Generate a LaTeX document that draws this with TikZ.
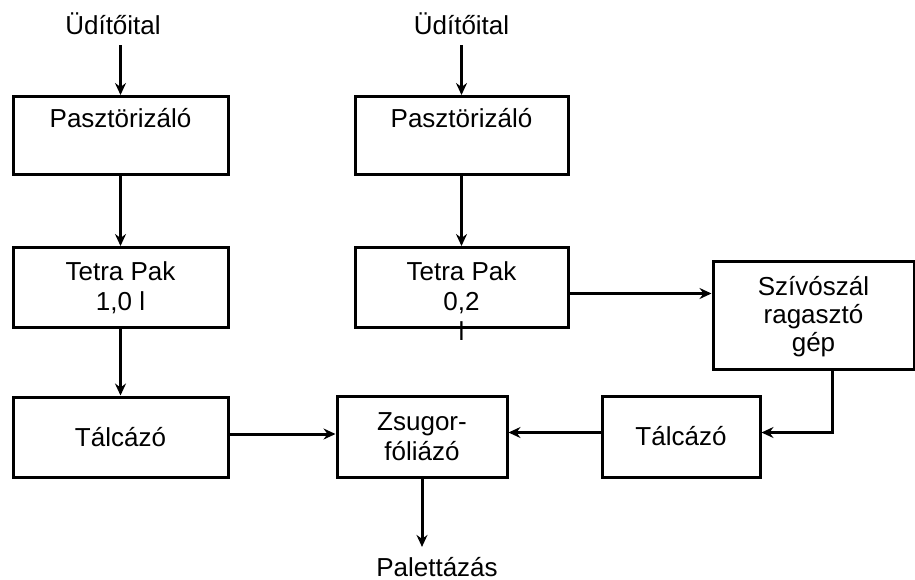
\documentclass[tikz,border=0pt]{standalone}
\usepackage{fontspec}
\setmainfont{Liberation Sans}
\usetikzlibrary{arrows.meta}

\begin{document}
\begin{tikzpicture}[x=0.5pt,y=-0.5pt,
  box/.style={draw, line width=1.5pt, align=center, inner sep=0pt, font=\fontsize{13}{15}\selectfont},
  lbl/.style={inner sep=5pt, font=\fontsize{13}{15}\selectfont},
  flow/.style={line width=1.5pt, -{Stealth[length=6pt,width=5.5pt,inset=2pt]}}]
\useasboundingbox (0,0) rectangle (915,579);

% inputs
\node[lbl] (ud1) at (113,24) {Üdítőital};
\node[lbl] (ud2) at (461.5,24) {Üdítőital};

% left line
\node[box, anchor=north, minimum width=107.5pt, text height=15.5pt, text depth=23.5pt] (pasz1) at (120.5,95) {Pasztörizáló};
\node[box, anchor=north, minimum width=107.5pt, text height=31.5pt, text depth=8.5pt] (tetra1) at (120.5,246) {Tetra Pak\\1,0 l};
\node[box, minimum width=107.5pt, minimum height=40pt] (talc1) at (120.5,437) {Tálcázó};

% right line
\node[box, anchor=north, minimum width=106.5pt, text height=15.5pt, text depth=23.5pt] (pasz2) at (461.5,95) {Pasztörizáló};
\node[box, anchor=north, minimum width=106.5pt, text height=31.5pt, text depth=8.5pt] (tetra2) at (461.5,246)
  {Tetra Pak\\\smash{\begin{tabular}[t]{@{}c@{}}0,2\\l\end{tabular}}};
\node[box, anchor=north, minimum width=100.5pt, text height=45pt, text depth=9pt,
  font=\fontsize{13}{14}\selectfont] (szivo) at (813.5,260) {Szívószál\\ragasztó\\gép};
\node[box, minimum width=79pt, minimum height=40.5pt] (talc2) at (681,436.5) {Tálcázó};

% common
\node[box, minimum width=85pt, minimum height=40.5pt] (zsug) at (422,436.5) {Zsugor-\\fóliázó};
\node[lbl] (palett) at (437,567) {Palettázás};

\draw[flow] (ud1.south -| pasz1.north) -- (pasz1.north);
\draw[flow] (pasz1) -- (tetra1);
\draw[flow] (tetra1) -- (talc1);
\draw[flow] ([yshift=1.5pt]talc1.east) -- ([yshift=1.5pt]talc1.east -| zsug.west);
\draw[flow] (ud2.south -| pasz2.north) -- (pasz2.north);
\draw[flow] (pasz2) -- (tetra2);
\draw[flow] ([yshift=-3pt]tetra2.east) -- ([yshift=-3pt]tetra2.east -| szivo.west);
\draw[flow] ([xshift=9.5pt]szivo.south) |- ([yshift=2pt]talc2.east);
\draw[flow] ([yshift=2pt]talc2.west) -- ([yshift=2pt]talc2.west -| zsug.east);
\draw[flow] (zsug.south) -- (zsug.south |- palett.north);
\end{tikzpicture}
\end{document}
